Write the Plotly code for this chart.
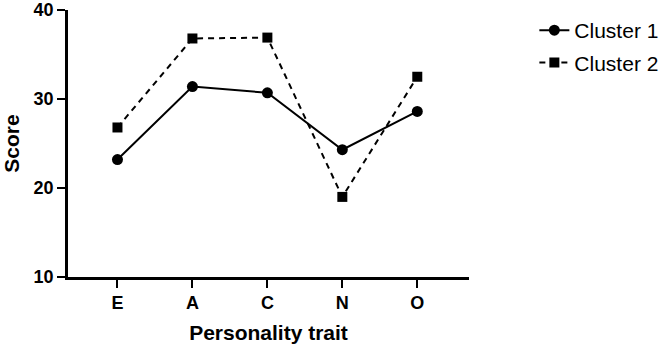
import plotly.graph_objects as go

traits = ["E", "A", "C", "N", "O"]
cluster1 = [23.2, 31.4, 30.7, 24.3, 28.6]
cluster2 = [26.8, 36.8, 36.9, 19.0, 32.5]

fig = go.Figure()
fig.add_trace(go.Scatter(
    x=traits, y=cluster1, name="Cluster 1", mode="lines+markers",
    line=dict(color="black", width=2),
    marker=dict(symbol="circle", size=11, color="black"),
    legendgroup="c1", cliponaxis=False,
))
fig.add_trace(go.Scatter(
    x=traits, y=cluster2, name="Cluster 2", mode="lines+markers",
    line=dict(color="black", width=2, dash="6px,5px"),
    marker=dict(symbol="square", size=10, color="black"),
    legendgroup="c2", cliponaxis=False,
))

font_family = "Liberation Sans, Arial, sans-serif"
fig.update_layout(
    width=662, height=349,
    margin=dict(l=68, r=193, t=10, b=72, autoexpand=False),
    paper_bgcolor="white", plot_bgcolor="white",
    font=dict(family=font_family, color="black"),
    showlegend=True,
    legend=dict(
        x=1.163, y=1.0, xanchor="left", yanchor="top",
        font=dict(size=21, family=font_family, color="black"),
        tracegroupgap=2, itemwidth=30,
        bgcolor="rgba(0,0,0,0)",
    ),
    xaxis=dict(
        range=[-0.66, 4.69], automargin=False,
        showline=True, linecolor="black", linewidth=2.5,
        ticks="outside", ticklen=8, tickwidth=2, tickcolor="black",
        showgrid=False, zeroline=False,
        tickfont=dict(size=18, family=font_family, color="black", weight="bold"),
        title=dict(text="<b>Personality trait</b>", font=dict(size=21, family=font_family), standoff=13),
    ),
    yaxis=dict(
        range=[10, 40], tickvals=[10, 20, 30, 40], automargin=False,
        showline=True, linecolor="black", linewidth=2.5,
        ticks="outside", ticklen=8, tickwidth=2, tickcolor="black",
        showgrid=False, zeroline=False,
        tickfont=dict(size=18, family=font_family, color="black", weight="bold"),
        title=dict(text="<b>Score</b>", font=dict(size=21, family=font_family), standoff=13),
    ),
)

fig.write_html("out.html", config={"displayModeBar": False},
               post_script="document.body.style.margin='0';document.body.style.overflow='hidden';")
